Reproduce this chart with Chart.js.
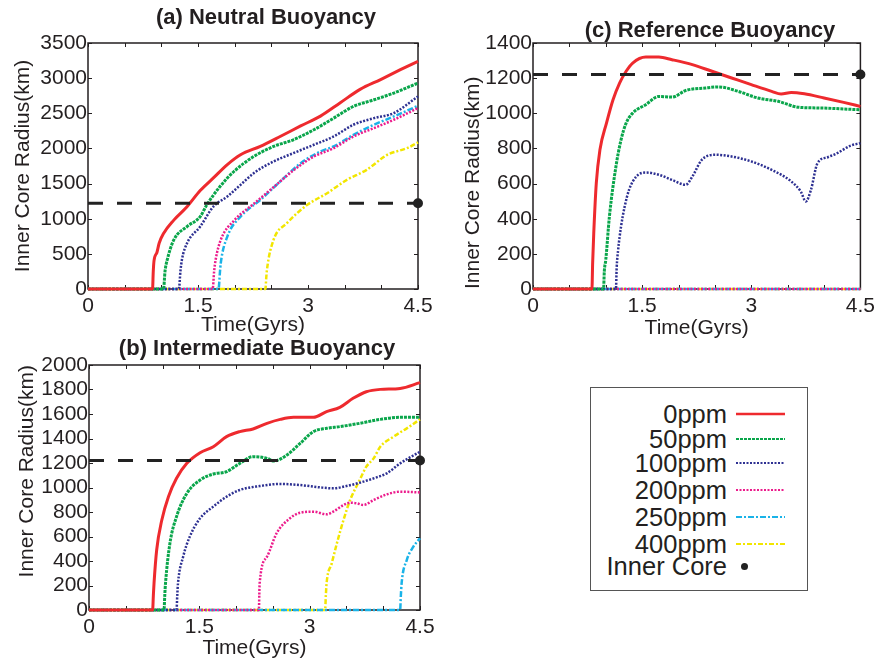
<!DOCTYPE html>
<html>
<head>
<meta charset="utf-8">
<script src="https://cdn.jsdelivr.net/npm/chart.js@4.4.1/dist/chart.umd.min.js"></script>
<style>
  body { margin: 0; background: #fff; width: 880px; height: 661px; position: relative; overflow: hidden;
         font-family: "Liberation Sans", Arial, Helvetica, sans-serif; color: #231f20; }
  canvas { position: absolute; }
  #legend { position: absolute; left: 590px; top: 387px; width: 216px; height: 202px;
            border: 1.5px solid #555; }
  #legend .lab { position: absolute; right: 80px; font-size: 25.5px; line-height: 26px; white-space: nowrap; }
  #legend svg { position: absolute; left: 145px; }
</style>
</head>
<body>
<canvas id="chartA" width="440" height="338" style="left:0;top:0"></canvas>
<canvas id="chartB" width="440" height="325" style="left:0;top:336px"></canvas>
<canvas id="chartC" width="440" height="341" style="left:440px;top:0"></canvas>
<div id="legend"></div>

<script>
// --- data: [time (Gyrs), inner core radius (km)] ---
const seriesNames = ['0ppm', '50ppm', '100ppm', '200ppm', '250ppm', '400ppm'];
const seriesColors = ['#ee2a2e', '#0aa64b', '#2e3192', '#ec1c8c', '#1ab3e8', '#f2e600'];
const innerCoreNow = 1221; // km, present day
const xTickLabels = [0, 1.5, 3, 4.5];

// (a) Neutral Buoyancy
const a0 = [[0,0],[0.88,0],[0.89,250],[0.9,400],[0.94,520],[0.97,650],[1.03,790],[1.17,980],[1.35,1170],[1.53,1400],[1.71,1580],[1.9,1770],[2.08,1910],[2.35,2030],[2.62,2170],[2.9,2320],[3.17,2460],[3.44,2650],[3.71,2840],[3.99,2980],[4.26,3120],[4.5,3240]];
const a50 = [[0,0],[1.03,0],[1.05,250],[1.08,413],[1.17,698],[1.35,888],[1.53,1030],[1.62,1197],[1.8,1458],[1.99,1672],[2.26,1885],[2.53,2028],[2.8,2123],[3.08,2265],[3.35,2431],[3.62,2598],[3.9,2692],[4.17,2788],[4.5,2930]];
const a100 = [[0,0],[1.24,0],[1.26,250],[1.28,413],[1.35,650],[1.53,888],[1.71,1173],[1.9,1316],[2.08,1482],[2.26,1648],[2.53,1814],[2.8,1933],[3.08,2052],[3.35,2170],[3.62,2337],[3.9,2431],[4.17,2503],[4.5,2740]];
const a200 = [[0,0],[1.7,0],[1.72,250],[1.74,413],[1.81,698],[2.0,983],[2.27,1220],[2.54,1458],[2.81,1695],[3.08,1885],[3.35,2004],[3.62,2170],[3.9,2289],[4.17,2408],[4.5,2574]];
const a250 = [[0,0],[1.78,0],[1.8,250],[1.81,366],[1.9,746],[2.08,1030],[2.35,1268],[2.62,1529],[2.9,1790],[3.17,1957],[3.35,2028],[3.62,2194],[3.9,2337],[4.17,2455],[4.5,2607]];
const a400 = [[0,0],[2.42,0],[2.43,150],[2.44,270],[2.53,698],[2.71,935],[2.99,1197],[3.26,1363],[3.53,1553],[3.8,1695],[4.08,1909],[4.35,2004],[4.5,2085]];

// (b) Intermediate Buoyancy
const b0 = [[0,0],[0.865,0],[0.875,120],[0.884,218],[0.92,490],[0.99,735],[1.08,925],[1.19,1075],[1.33,1197],[1.51,1284],[1.69,1333],[1.87,1415],[2.05,1456],[2.23,1478],[2.42,1524],[2.6,1556],[2.78,1573],[3.05,1573],[3.23,1619],[3.41,1654],[3.59,1728],[3.77,1782],[3.96,1801],[4.23,1809],[4.5,1856]];
const b50 = [[0,0],[1.02,0],[1.03,120],[1.04,218],[1.1,544],[1.19,762],[1.33,952],[1.51,1061],[1.69,1110],[1.87,1129],[2.05,1197],[2.23,1252],[2.42,1238],[2.51,1216],[2.69,1265],[2.87,1360],[3.05,1456],[3.23,1483],[3.41,1497],[3.68,1524],[3.96,1556],[4.23,1573],[4.5,1573]];
const b100 = [[0,0],[1.19,0],[1.2,120],[1.21,218],[1.28,435],[1.37,599],[1.51,748],[1.69,844],[1.87,925],[2.05,980],[2.32,1012],[2.6,1029],[2.87,1020],[3.14,1001],[3.32,993],[3.5,1012],[3.68,1039],[3.87,1075],[4.05,1116],[4.23,1197],[4.5,1292]];
const b200 = [[0,0],[2.31,0],[2.315,120],[2.32,218],[2.42,435],[2.55,626],[2.73,748],[2.87,794],[3.05,803],[3.23,781],[3.32,803],[3.46,857],[3.55,876],[3.64,871],[3.73,857],[3.87,898],[4.05,944],[4.23,966],[4.5,960]];
const b250 = [[0,0],[4.23,0],[4.24,120],[4.25,218],[4.32,408],[4.41,517],[4.5,585]];
const b400 = [[0,0],[3.21,0],[3.22,120],[3.23,218],[3.3,381],[3.37,544],[3.46,735],[3.55,898],[3.68,1061],[3.77,1170],[3.87,1238],[3.96,1333],[4.14,1415],[4.32,1483],[4.5,1556]];

// (c) Reference Buoyancy
const c0 = [[0,0],[0.81,0],[0.82,150],[0.835,317],[0.87,602],[0.92,792],[1.01,944],[1.1,1077],[1.19,1172],[1.28,1239],[1.37,1286],[1.55,1320],[1.73,1320],[1.91,1305],[2.19,1277],[2.46,1239],[2.73,1201],[3.0,1163],[3.28,1125],[3.41,1110],[3.55,1119],[3.73,1111],[4.0,1087],[4.27,1062],[4.5,1039]];
const c50 = [[0,0],[0.97,0],[0.98,100],[1.0,165],[1.05,412],[1.14,697],[1.21,849],[1.28,944],[1.37,1001],[1.55,1049],[1.73,1096],[1.91,1092],[2.1,1130],[2.37,1144],[2.55,1150],[2.82,1125],[3.09,1087],[3.37,1068],[3.64,1035],[3.96,1030],[4.5,1020]];
const c100 = [[0,0],[1.14,0],[1.15,120],[1.17,222],[1.21,355],[1.26,469],[1.32,564],[1.42,640],[1.55,663],[1.73,650],[1.91,621],[2.1,593],[2.19,640],[2.32,735],[2.5,764],[2.73,754],[3.0,726],[3.28,678],[3.55,612],[3.68,555],[3.75,498],[3.82,564],[3.91,716],[4.05,750],[4.18,773],[4.36,815],[4.5,830]];
const c200 = [[0,0],[4.5,0]];
const c250 = [[0,0],[4.5,0]];
const c400 = [[0,0],[4.5,0]];

// line styles per series (dash patterns roughly like the matlab styles)
const seriesDash = [[], [3, 1], [2, 1.5], [2, 1.5], [6, 2, 2, 2], [5, 2, 2, 2]];
const seriesWidth = [3, 3, 2.5, 2.5, 2.5, 2.5];

const FONT = '"Liberation Sans", Arial, Helvetica, sans-serif';
const INK = '#231f20';

// box round the plot with short inward ticks on all four sides
const framePlugin = {
  id: 'frame',
  beforeDatasetsDraw(chart) {
    const { ctx, chartArea: ca, scales: { x, y } } = chart;
    ctx.save();
    ctx.strokeStyle = INK;
    ctx.lineWidth = 1;
    x.ticks.forEach(t => {
      const px = Math.round(x.getPixelForValue(t.value)) + 0.5;
      ctx.beginPath();
      ctx.moveTo(px, ca.bottom); ctx.lineTo(px, ca.bottom - 4);
      ctx.moveTo(px, ca.top); ctx.lineTo(px, ca.top + 4);
      ctx.stroke();
    });
    y.ticks.forEach(t => {
      const py = Math.round(y.getPixelForValue(t.value)) + 0.5;
      ctx.beginPath();
      ctx.moveTo(ca.left, py); ctx.lineTo(ca.left + 4, py);
      ctx.moveTo(ca.right, py); ctx.lineTo(ca.right - 4, py);
      ctx.stroke();
    });
    ctx.lineWidth = 1.5;
    ctx.strokeRect(ca.left, ca.top, ca.right - ca.left, ca.bottom - ca.top);
    ctx.restore();
  }
};

// panel heading, placed by hand like the figure
const headingPlugin = {
  id: 'heading',
  afterDraw(chart, args, opts) {
    const ctx = chart.ctx;
    ctx.save();
    ctx.font = 'bold 22px ' + FONT;
    ctx.fillStyle = INK;
    ctx.textAlign = 'center';
    ctx.textBaseline = 'middle';
    ctx.fillText(opts.text, opts.x, opts.y);
    ctx.restore();
  }
};

function makePanel(id, title, titlePos, area, yMax, yStep, series, yTitlePad, yTitleAlign) {
  const canvas = document.getElementById(id);
  const W = canvas.width, H = canvas.height;

  const datasets = [{
    label: 'Inner Core',
    data: [[0, innerCoreNow], [4.5, innerCoreNow]].map(p => ({ x: p[0], y: p[1] })),
    borderColor: '#222', backgroundColor: '#222',
    borderWidth: 3, borderDash: [15, 14],
    pointRadius: [0, 3.5], pointHoverRadius: 0,
    clip: false
  }];
  series.forEach((s, i) => {
    datasets.push({
      label: seriesNames[i],
      data: s.map(p => ({ x: p[0], y: p[1] })),
      borderColor: seriesColors[i],
      borderWidth: seriesWidth[i],
      borderDash: seriesDash[i],
      pointRadius: 0,
      cubicInterpolationMode: 'monotone',
      clip: false
    });
  });

  return new Chart(canvas, {
    type: 'line',
    data: { datasets },
    plugins: [framePlugin, headingPlugin],
    options: {
      responsive: false,
      animation: false,
      events: [],
      layout: { padding: { left: 0, right: W - area.r, top: area.t, bottom: 0 } },
      plugins: {
        legend: { display: false },
        tooltip: { enabled: false },
        heading: { text: title, x: titlePos[0], y: titlePos[1] }
      },
      scales: {
        x: {
          type: 'linear', min: 0, max: 4.5,
          grid: { display: false, drawTicks: false },
          border: { display: false },
          ticks: {
            stepSize: 0.5, autoSkip: false, maxRotation: 0, padding: 5,
            color: INK, font: { family: FONT, size: 21 },
            callback: v => xTickLabels.some(l => Math.abs(l - v) < 1e-6) ? String(v) : ''
          },
          title: { display: true, text: 'Time(Gyrs)', color: INK, font: { family: FONT, size: 21 }, padding: { top: 0, bottom: 0 } },
          afterFit: s => { s.height = H - area.b; }
        },
        y: {
          min: 0, max: yMax,
          grid: { display: false, drawTicks: false },
          border: { display: false },
          ticks: {
            stepSize: yStep, autoSkip: false, padding: 1, color: INK, font: { family: FONT, size: 21 },
            callback: v => String(v)
          },
          title: { display: true, text: 'Inner Core Radius(km)', align: yTitleAlign, color: INK, font: { family: FONT, size: 21 }, padding: { top: yTitlePad, bottom: 0 } },
          afterFit: s => { s.width = area.l; }
        }
      }
    }
  });
}

makePanel('chartA', '(a) Neutral Buoyancy', [266, 18], { l: 88, r: 418, t: 43, b: 289 },
  3500, 500, [a0, a50, a100, a200, a250, a400], 11, 'center');
makePanel('chartB', '(b) Intermediate Buoyancy', [257, 13], { l: 89, r: 420, t: 29, b: 274 },
  2000, 200, [b0, b50, b100, b200, b250, b400], 15, 'end');
makePanel('chartC', '(c) Reference Buoyancy', [270, 31], { l: 93, r: 423, t: 43, b: 289 },
  1400, 200, [c0, c50, c100, c200, c250, c400], 21, 'start');

// --- legend box (plain html) ---
const legend = document.getElementById('legend');
const rowCenters = [26, 51, 75, 102, 129, 156];
seriesNames.forEach((name, i) => {
  const lab = document.createElement('div');
  lab.className = 'lab';
  lab.style.top = (rowCenters[i] - 13) + 'px';
  lab.textContent = name;
  legend.appendChild(lab);
  const svgNS = 'http://www.w3.org/2000/svg';
  const svg = document.createElementNS(svgNS, 'svg');
  svg.setAttribute('width', 50); svg.setAttribute('height', 6);
  svg.style.top = (rowCenters[i] - 3) + 'px';
  const ln = document.createElementNS(svgNS, 'line');
  ln.setAttribute('x1', 0); ln.setAttribute('x2', 49);
  ln.setAttribute('y1', 3); ln.setAttribute('y2', 3);
  ln.setAttribute('stroke', seriesColors[i]);
  ln.setAttribute('stroke-width', i === 0 ? 2.5 : 2);
  if (seriesDash[i].length) ln.setAttribute('stroke-dasharray', seriesDash[i].join(','));
  svg.appendChild(ln);
  legend.appendChild(svg);
});
const coreLab = document.createElement('div');
coreLab.className = 'lab';
coreLab.style.top = (178 - 13) + 'px';
coreLab.textContent = 'Inner Core';
legend.appendChild(coreLab);
const dot = document.createElement('div');
dot.style.cssText = 'position:absolute;left:150px;top:175px;width:7px;height:7px;border-radius:50%;background:#222';
legend.appendChild(dot);
</script>
</body>
</html>
